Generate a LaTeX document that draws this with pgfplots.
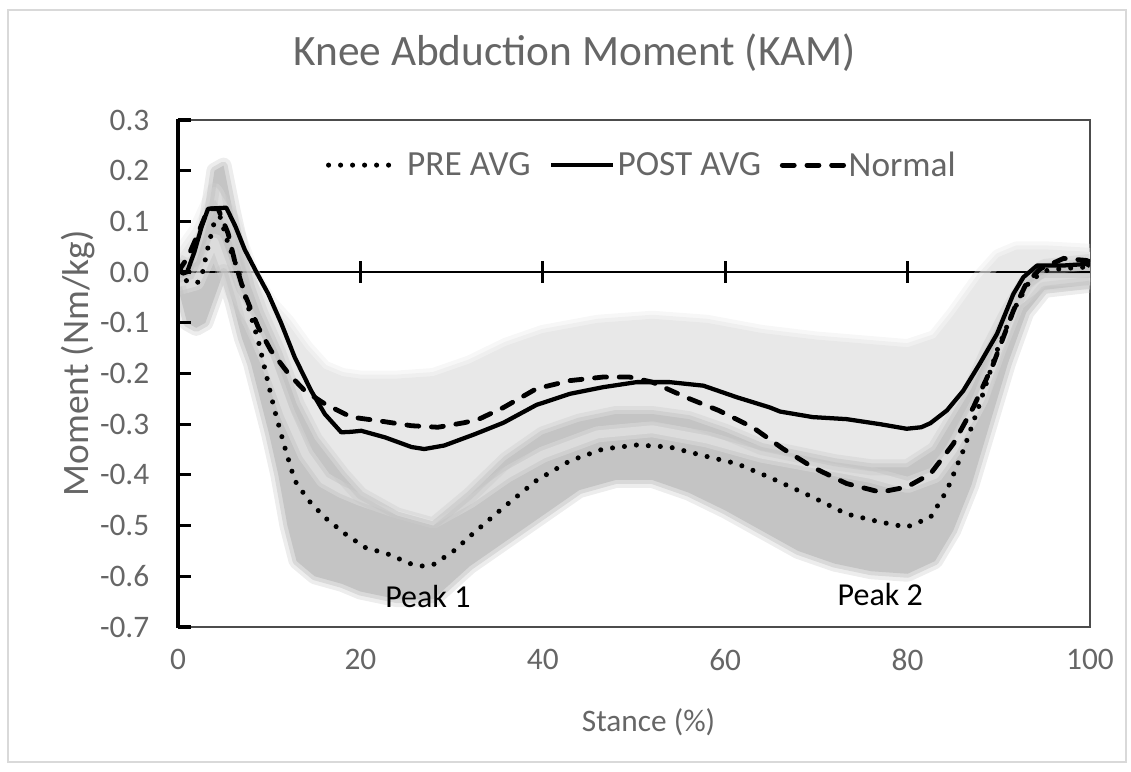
\documentclass[border=0pt]{standalone}
\usepackage{pgfplots}
\pgfplotsset{compat=1.18}
\usepgfplotslibrary{fillbetween}
\usepackage{fontspec}
\setmainfont{Carlito}
\definecolor{labelgray}{RGB}{102,102,102}
\definecolor{lightband}{RGB}{232,232,232}
\definecolor{darkband}{RGB}{196,196,196}
\definecolor{bordergray}{RGB}{217,217,217}
\pgfplotstableread{
x u l
0 0.03 -0.03
2 0.08 -0.02
4 0.16 0.06
6 0.10 -0.04
8 0.0 -0.10
10 -0.06 -0.18
12 -0.10 -0.28
14 -0.15 -0.36
16 -0.19 -0.41
18 -0.205 -0.43
20 -0.21 -0.445
24 -0.21 -0.47
28 -0.205 -0.49
32 -0.18 -0.45
36 -0.145 -0.40
40 -0.12 -0.36
46 -0.10 -0.32
52 -0.092 -0.31
58 -0.10 -0.33
64 -0.12 -0.36
70 -0.133 -0.38
76 -0.142 -0.40
80 -0.148 -0.42
83 -0.13 -0.40
85 -0.085 -0.35
88 -0.01 -0.25
90 0.03 -0.15
92 0.045 -0.06
95 0.045 -0.02
100 0.04 -0.02
}\lightbandtable
\pgfplotstableread{
x u l
0 0.02 -0.03
1 0.01 -0.10
2 0.02 -0.11
3 0.08 -0.10
4 0.20 -0.05
5 0.21 0.0
6 0.12 -0.06
7 0.04 -0.13
8 -0.03 -0.18
9 -0.08 -0.25
10 -0.12 -0.32
11 -0.16 -0.40
12 -0.21 -0.50
13 -0.26 -0.57
15 -0.33 -0.60
18 -0.40 -0.615
20 -0.44 -0.63
24 -0.48 -0.645
28 -0.50 -0.645
32 -0.44 -0.58
36 -0.37 -0.53
40 -0.32 -0.48
44 -0.295 -0.43
48 -0.28 -0.41
52 -0.28 -0.41
56 -0.29 -0.435
60 -0.315 -0.47
64 -0.345 -0.51
68 -0.36 -0.55
72 -0.375 -0.575
76 -0.385 -0.59
80 -0.385 -0.595
83 -0.35 -0.57
85 -0.29 -0.51
87 -0.23 -0.42
89 -0.15 -0.30
91 -0.08 -0.18
93 -0.02 -0.08
95 0.01 -0.035
100 0.02 -0.025
}\darkbandtable
\begin{document}
\begin{tikzpicture}
\draw[bordergray, line width=0.8pt] (-127.5pt,-101.25pt) rectangle (711pt,462.75pt);
\begin{axis}[
  at={(0,0)}, anchor=south west,
  scale only axis, width=684pt, height=380.25pt,
  xmin=0, xmax=100, ymin=-0.7, ymax=0.3,
  axis line style={draw=black!70, line width=1pt},
  xtick={0,20,40,60,80,100},
  xticklabels={0,20,40,60,80,100},
  ytick={-0.7,-0.6,-0.5,-0.4,-0.3,-0.2,-0.1,0,0.1,0.2,0.3},
  yticklabels={-0.7,-0.6,-0.5,-0.4,-0.3,-0.2,-0.1,0.0,0.1,0.2,0.3},
  major tick length=0pt,
  ticklabel style={font=\fontsize{23.5}{28}\selectfont, text=labelgray},
  yticklabel style={xshift=-18pt},
  xticklabel style={yshift=-13pt},
  title={Knee Abduction Moment (KAM)},
  title style={at={(axis description cs:0.435,1.118)}, anchor=center, font=\fontsize{32.5}{38}\selectfont, text=labelgray},
  xlabel={Stance (\%)},
  xlabel style={at={(axis description cs:0.516,-0.187)}, anchor=center, font=\fontsize{23.5}{28}\selectfont, text=labelgray},
  ylabel={Moment (Nm/kg)},
  ylabel style={at={(axis description cs:-0.11,0.52)}, anchor=center, font=\fontsize{28}{32}\selectfont, text=labelgray},
  legend style={at={(0.509,0.911)}, anchor=center, draw=none, fill=none,
    font=\fontsize{26.5}{30}\selectfont, text=labelgray,
    /tikz/every even column/.append style={column sep=12pt}},
  legend columns=3,
  legend image code/.code={\draw[#1] (0pt,0pt) -- (46pt,0pt);},
]
% zero line with crossing ticks
\addplot[forget plot, black, line width=2pt] coordinates {(0,0) (100,0)};
\addplot[forget plot, black, line width=2pt] coordinates {(20,-0.021) (20,0.022)};
\addplot[forget plot, black, line width=2pt] coordinates {(40,-0.021) (40,0.022)};
\addplot[forget plot, black, line width=2pt] coordinates {(60,-0.021) (60,0.022)};
\addplot[forget plot, black, line width=2pt] coordinates {(80,-0.021) (80,0.022)};

% light band
\addplot[forget plot, draw=none, name path=LU] table[x=x,y=u] {\lightbandtable};
\addplot[forget plot, draw=none, name path=LL] table[x=x,y=l] {\lightbandtable};
\addplot[forget plot, lightband] fill between[of=LU and LL];
\addplot[forget plot, lightband, line width=12pt, opacity=0.35, line join=round] table[x=x,y=u] {\lightbandtable};
\addplot[forget plot, lightband, line width=6pt, opacity=0.5, line join=round] table[x=x,y=u] {\lightbandtable};
\addplot[forget plot, lightband, line width=12pt, opacity=0.35, line join=round] table[x=x,y=l] {\lightbandtable};
\addplot[forget plot, lightband, line width=6pt, opacity=0.5, line join=round] table[x=x,y=l] {\lightbandtable};

% dark band
\addplot[forget plot, draw=none, name path=DU] table[x=x,y=u] {\darkbandtable};
\addplot[forget plot, draw=none, name path=DL] table[x=x,y=l] {\darkbandtable};
\addplot[forget plot, darkband] fill between[of=DU and DL];
\addplot[forget plot, darkband, line width=12pt, opacity=0.3, line join=round] table[x=x,y=u] {\darkbandtable};
\addplot[forget plot, darkband, line width=6pt, opacity=0.5, line join=round] table[x=x,y=u] {\darkbandtable};
\addplot[forget plot, darkband, line width=12pt, opacity=0.3, line join=round] table[x=x,y=l] {\darkbandtable};
\addplot[forget plot, darkband, line width=6pt, opacity=0.5, line join=round] table[x=x,y=l] {\darkbandtable};

% PRE AVG (dotted)
\addplot[black, line width=3.8pt, line cap=round, dash pattern=on 0pt off 9pt] coordinates {
(0,0.0) (1.1,-0.02) (2.2,-0.02) (2.7,0.0) (3.3,0.05) (4,0.10) (4.6,0.11) (5.5,0.056) (6.6,0.003)
(7.7,-0.069) (8.8,-0.135) (9.9,-0.22) (10.6,-0.273) (11.7,-0.345) (12.8,-0.411) (14.3,-0.45)
(16.1,-0.484) (18.3,-0.516) (20.5,-0.543) (23,-0.556) (25.6,-0.576) (26.9,-0.58) (28.1,-0.576)
(30.3,-0.549) (32.2,-0.518) (35.7,-0.464) (39.3,-0.411) (43,-0.372) (46.6,-0.349) (50.3,-0.341)
(53.9,-0.345) (57.6,-0.362) (61.3,-0.378) (64.9,-0.405) (69.6,-0.444) (73.3,-0.477) (77,-0.493)
(79.9,-0.503) (82.5,-0.484) (84.3,-0.431) (86.1,-0.352) (87.9,-0.26) (89.8,-0.155) (91.6,-0.076)
(93.4,-0.017) (95.2,0.003) (97,0.007) (99.6,0.01)};
\addlegendentry{\hspace{9pt}PRE AVG}

% POST AVG (solid)
\addplot[black, line width=3.2pt, line join=round] coordinates {
(0,0.015) (0.5,-0.003) (1,0.0) (1.8,0.04) (2.6,0.09) (3.3,0.125) (5.3,0.127) (6.3,0.09) (7.3,0.045)
(8.6,0.0) (9.9,-0.043) (11.3,-0.10) (12.8,-0.168) (14.6,-0.234) (16.1,-0.28) (17.9,-0.316)
(19,-0.315) (20.1,-0.313) (22.7,-0.326) (25.6,-0.345) (27,-0.349) (29.2,-0.342) (31,-0.33)
(32.5,-0.32) (35.7,-0.297) (39.3,-0.262) (43,-0.240) (46.6,-0.227) (50.3,-0.217) (53.9,-0.217)
(57.6,-0.224) (61.3,-0.247) (64.9,-0.267) (66,-0.275) (69.6,-0.286) (73.3,-0.29) (77,-0.30)
(79.9,-0.309) (81.5,-0.306) (82.5,-0.298) (84.3,-0.273) (86.1,-0.234) (87.9,-0.181) (89.8,-0.122)
(91.6,-0.043) (92.7,-0.01) (94.2,0.013) (97.1,0.013) (99.6,0.016) (100,0.012)};
\addlegendentry{POST AVG}

% Normal (dashed)
\addplot[black, line width=3.6pt, line cap=round, dash pattern=on 9pt off 9.5pt] coordinates {
(0,0.0) (1.1,0.03) (2.2,0.076) (3.3,0.125) (4.4,0.125) (5.5,0.076) (6.2,0.023) (7.3,-0.043)
(8.8,-0.109) (10.2,-0.155) (12.1,-0.20) (13.9,-0.234) (16.1,-0.26) (19,-0.286) (21.9,-0.293)
(25.6,-0.303) (28.5,-0.306) (31.4,-0.297) (33,-0.29) (35.7,-0.267) (39.3,-0.23) (43,-0.214)
(46.6,-0.207) (49.5,-0.207) (52,-0.217) (55.7,-0.247) (59.3,-0.273) (63,-0.306) (66.3,-0.348)
(69.6,-0.385) (73.3,-0.417) (77,-0.434) (79.9,-0.424) (82.5,-0.398) (85,-0.339) (87.2,-0.267)
(89.4,-0.181) (91.6,-0.076) (93,-0.023) (94.5,0.006) (97.1,0.027) (99.6,0.023) (100,0.02)};
\addlegendentry{Normal}

\node[font=\fontsize{24}{28}\selectfont, text=black] at (axis cs:27.4,-0.639) {Peak 1};
\node[font=\fontsize{24}{28}\selectfont, text=black] at (axis cs:77,-0.635) {Peak 2};
\end{axis}
% thick left spine with inward ticks
\draw[black, line width=2.6pt] (0pt,-0.6pt) -- (0pt,380.85pt);
\foreach \k in {0,...,10} {
  \draw[black, line width=2.4pt] (0pt,{\k*38.025pt}) -- (9.5pt,{\k*38.025pt});
}
\pgfresetboundingbox
\path[use as bounding box] (-133.5pt,-108pt) rectangle (714.75pt,470.25pt);
\end{tikzpicture}
\end{document}
